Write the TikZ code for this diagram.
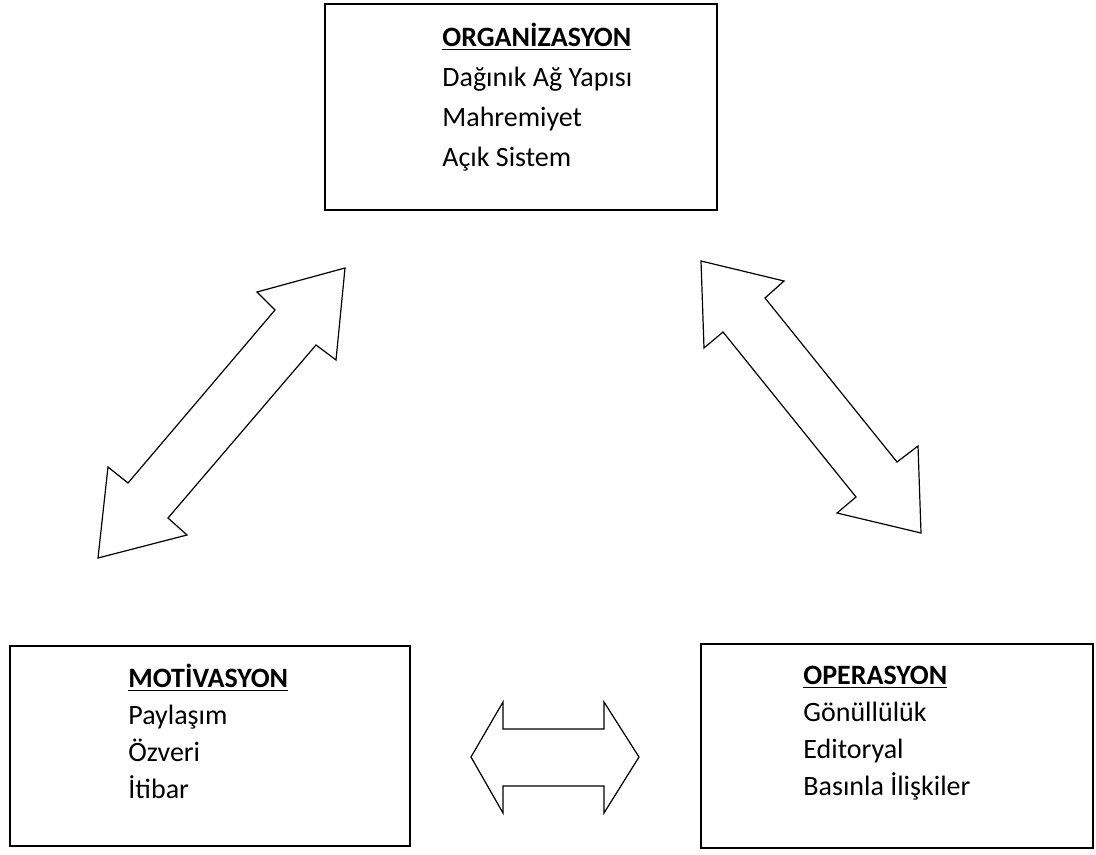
\documentclass[tikz,border=0pt]{standalone}
\usepackage{fontspec}
\setmainfont{Carlito}
\tikzset{
	block/.style={draw, line width=0.6pt, inner sep=0pt},
	blocktext/.style={anchor=north west, align=left, inner sep=0pt,
			font=\fontsize{14pt}{20pt}\selectfont},
	bigarrow/.style={draw, line width=0.6pt, fill=white, line join=miter},
}
\begin{document}
\begin{tikzpicture}[x=0.5pt,y=-0.5pt]
	\useasboundingbox (0,0) rectangle (1096,855);
	% boxes
	\node[block, minimum width=196pt, minimum height=103pt] (org) at (521,107) {};
	\node[block, minimum width=200pt, minimum height=100pt] (mot) at (210,746) {};
	\node[block, minimum width=196pt, minimum height=102pt] (ope) at (897,746) {};
	\node[blocktext] (org-text) at (442,23) {\underline{\textbf{ORGANİZASYON}}\\Dağınık Ağ Yapısı\\Mahremiyet\\Açık Sistem};
	\node[blocktext, font=\fontsize{14pt}{18.5pt}\selectfont] (mot-text) at (128,664) {\underline{\textbf{MOTİVASYON}}\\Paylaşım\\Özveri\\İtibar};
	\node[blocktext, font=\fontsize{14pt}{18.5pt}\selectfont] (ope-text) at (803,666) {\underline{\textbf{OPERASYON}}\\Gönüllülük\\Editoryal\\Basınla İlişkiler};
	% double arrows
	\draw[bigarrow] (345,268) -- (336,360) -- (316,345) -- (168,518) -- (187,535) -- (98,558)
		-- (108,467) -- (128,483) -- (275,310) -- (257,292) -- cycle;
	\draw[bigarrow] (701,261) -- (784,281) -- (765,298) -- (897,462) -- (918,446) -- (921,533)
		-- (837,513) -- (856,497) -- (723,332) -- (704,348) -- cycle;
	\draw[bigarrow] (471,757) -- (503,702) -- (503,729) -- (604,729) -- (604,702) -- (639,757)
		-- (604,813) -- (604,786) -- (503,786) -- (503,813) -- cycle;
\end{tikzpicture}
\end{document}
